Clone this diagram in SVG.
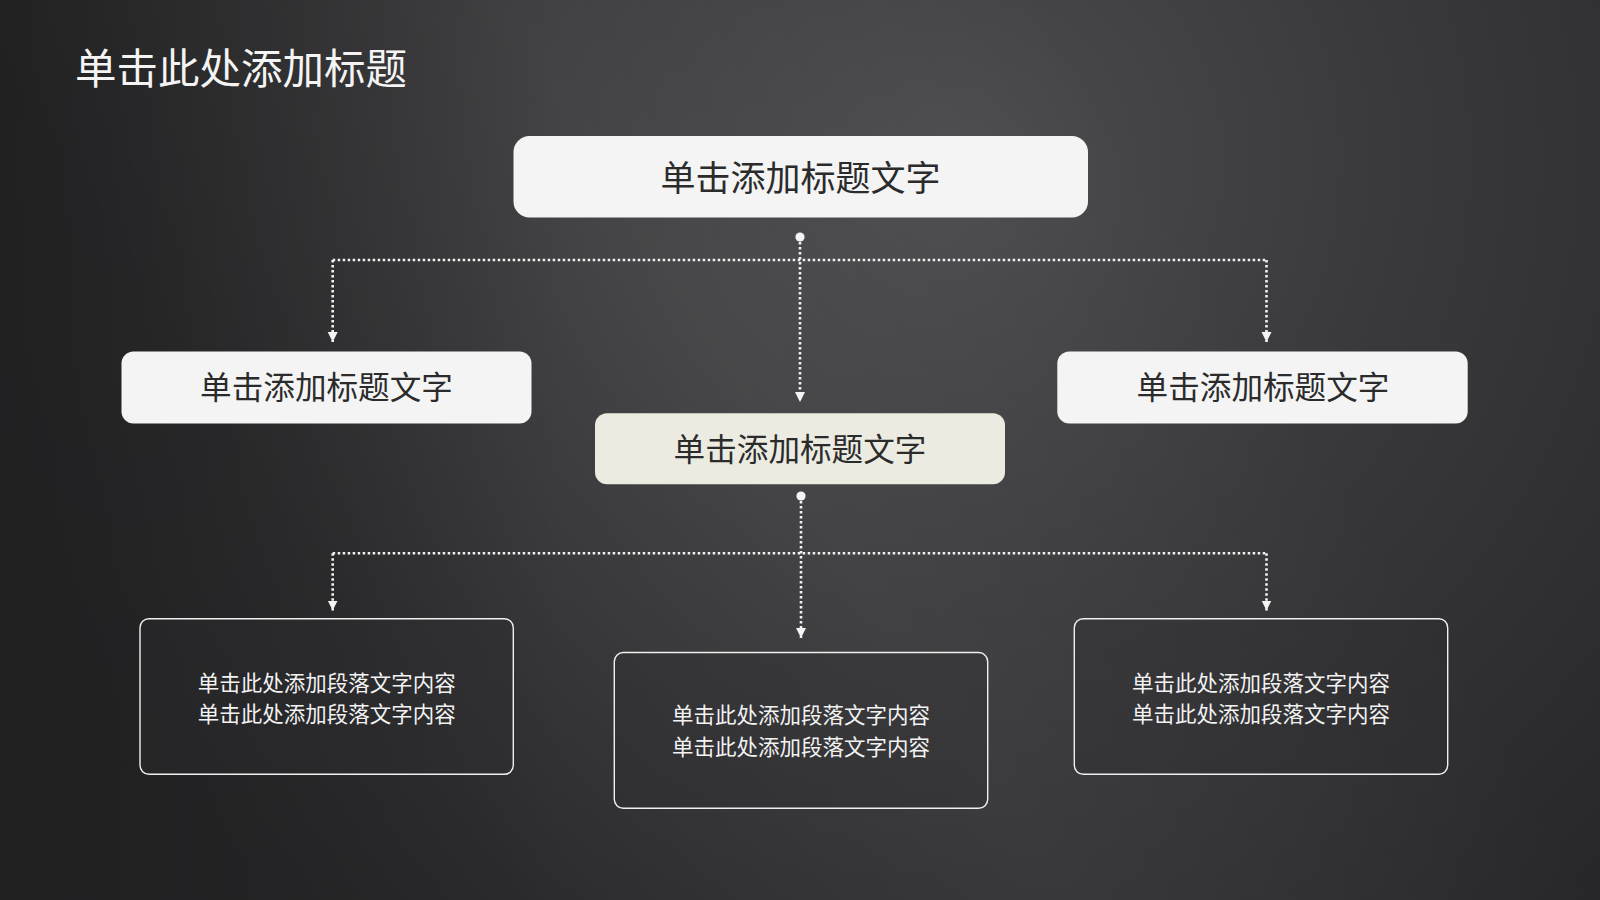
<svg xmlns="http://www.w3.org/2000/svg" width="1600" height="900" viewBox="0 0 1600 900">
  <defs>
    <radialGradient id="bgGlow" cx="960" cy="160" r="1000" gradientUnits="userSpaceOnUse">
      <stop offset="0" stop-color="#4c4c4e"/>
      <stop offset="0.45" stop-color="#39393b"/>
      <stop offset="1" stop-color="#262628"/>
    </radialGradient>
    <linearGradient id="leftShade" x1="0" y1="0" x2="1" y2="0">
      <stop offset="0" stop-color="#1c1c1d" stop-opacity="0.55"/>
      <stop offset="0.35" stop-color="#1c1c1d" stop-opacity="0"/>
    </linearGradient>
    <linearGradient id="streak" gradientUnits="userSpaceOnUse" x1="350" y1="650" x2="1150" y2="150">
      <stop offset="0" stop-color="#ffffff" stop-opacity="0"/>
      <stop offset="0.5" stop-color="#ffffff" stop-opacity="0.045"/>
      <stop offset="1" stop-color="#ffffff" stop-opacity="0"/>
    </linearGradient>
    <marker id="arrow" markerUnits="userSpaceOnUse" markerWidth="10" markerHeight="11" refX="10" refY="5" orient="auto" viewBox="0 0 10 10">
      <path d="M0,0 L10,5 L0,10 z" fill="#f4f4f4"/>
    </marker>
    <marker id="dot" markerUnits="userSpaceOnUse" markerWidth="10" markerHeight="10" refX="5" refY="5" orient="auto" viewBox="0 0 10 10">
      <circle cx="5" cy="5" r="4.6" fill="#f4f4f4"/>
    </marker>
  </defs>
  <style>
    .cjk { font-family: "Noto Sans CJK SC", "Noto Sans", "Liberation Sans", sans-serif; }
    .head { fill: #f4f4f5; stroke: none; }
    .mid { fill: #ecebe1; stroke: none; }
    .card { fill: #2e2e30; fill-opacity: 0.35; stroke: #f0f0f0; stroke-width: 1.4; }
    .headtxt { fill: #2b2b2b; text-anchor: middle; }
    .bodytxt { fill: #f2f2f2; text-anchor: middle; font-size: 21.5px; }
    .dotted { fill: none; stroke: #f2f2f2; stroke-width: 2.6; stroke-dasharray: 2.5 2.5; }
  </style>

  <rect x="0" y="0" width="1600" height="900" fill="url(#bgGlow)"/>
  <rect x="0" y="0" width="1600" height="900" fill="url(#leftShade)"/>
  <rect x="0" y="0" width="1600" height="900" fill="url(#streak)"/>

  <text x="75" y="84" class="cjk" font-size="41.5" fill="#f4f4f4">单击此处添加标题</text>

  <g id="connectors">
    <path class="dotted" d="M332.7,260 H1266.5"/>
    <path class="dotted" d="M332.7,260 V342" marker-end="url(#arrow)"/>
    <path class="dotted" d="M1266.5,260 V342" marker-end="url(#arrow)"/>
    <path class="dotted" d="M800,237 V402" marker-start="url(#dot)" marker-end="url(#arrow)"/>
    <path class="dotted" d="M332.7,553.3 H1266.5"/>
    <path class="dotted" d="M332.7,553.3 V610.5" marker-end="url(#arrow)"/>
    <path class="dotted" d="M1266.5,553.3 V610.5" marker-end="url(#arrow)"/>
    <path class="dotted" d="M801,496 V638" marker-start="url(#dot)" marker-end="url(#arrow)"/>
  </g>

  <g id="node-top">
    <rect class="head" x="513.5" y="136" width="574.5" height="81.5" rx="16" ry="16"/>
    <text class="cjk headtxt" x="800.5" y="190.5" font-size="35">单击添加标题文字</text>
  </g>

  <g id="node-left">
    <rect class="head" x="121.5" y="351.5" width="410" height="72" rx="12" ry="12"/>
    <text class="cjk headtxt" x="326.5" y="399" font-size="31.6">单击添加标题文字</text>
  </g>

  <g id="node-right">
    <rect class="head" x="1057.3" y="351.5" width="410.4" height="72" rx="12" ry="12"/>
    <text class="cjk headtxt" x="1263" y="399" font-size="31.6">单击添加标题文字</text>
  </g>

  <g id="node-middle">
    <rect class="mid" x="595" y="413.3" width="410" height="71" rx="12" ry="12"/>
    <text class="cjk headtxt" x="800" y="460.5" font-size="31.6">单击添加标题文字</text>
  </g>

  <g id="card-left">
    <rect class="card" x="140" y="618.7" width="373.3" height="155.6" rx="9" ry="9"/>
    <text class="cjk bodytxt" x="326.7" y="690.5">单击此处添加段落文字内容</text>
    <text class="cjk bodytxt" x="326.7" y="722.2">单击此处添加段落文字内容</text>
  </g>

  <g id="card-center">
    <rect class="card" x="614.3" y="652.5" width="373.4" height="155.8" rx="9" ry="9"/>
    <text class="cjk bodytxt" x="801" y="723">单击此处添加段落文字内容</text>
    <text class="cjk bodytxt" x="801" y="754.7">单击此处添加段落文字内容</text>
  </g>

  <g id="card-right">
    <rect class="card" x="1074.3" y="618.7" width="373.4" height="155.6" rx="9" ry="9"/>
    <text class="cjk bodytxt" x="1261" y="690.5">单击此处添加段落文字内容</text>
    <text class="cjk bodytxt" x="1261" y="722.2">单击此处添加段落文字内容</text>
  </g>
</svg>
